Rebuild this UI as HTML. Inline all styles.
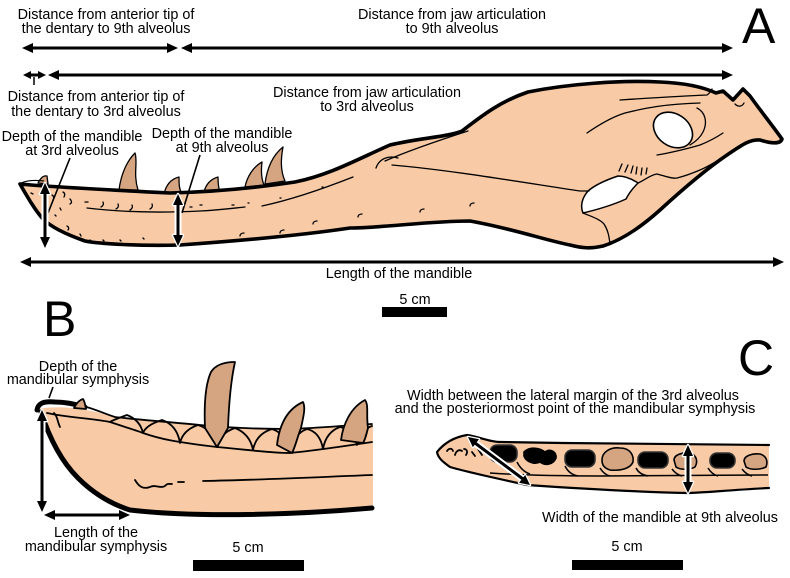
<!DOCTYPE html>
<html><head><meta charset="utf-8"><style>
html,body{margin:0;padding:0;background:#fff;}
svg{display:block;}
text{font-family:"Liberation Sans",Arial,sans-serif;font-size:14.4px;fill:#000;}
.big{font-size:50px;}
</style></head><body>
<svg width="790" height="578" viewBox="0 0 790 578" xmlns="http://www.w3.org/2000/svg">
<rect width="790" height="578" fill="#fff"/>

<!-- ===== PANEL A ===== -->
<g fill="#d5a582" stroke="#000" stroke-width="1.3" stroke-linejoin="round">
<path d="M38,183 C40,179 43,175 47,176 L48,184 Z"/>
<path d="M119,190 C121,174 127,161 135,153 C138,162 133,174 138,190 Z"/>
<path d="M164,194 C166,185 171,179 179,177 C179,184 179,189 182,194 Z"/>
<path d="M204,192 C206,184 211,179 218,177 C218,182 218,187 220,192 Z"/>
<path d="M245,187 C247,177 253,167 262,162 C261,170 261,178 264,185 Z"/>
<path d="M265,184 C267,168 273,155 283,147 C281,158 280,170 285,181 Z"/>
</g>
<path d="M20,184 C50,187 110,190 170,193 C215,192 255,188 295,182 C330,175 360,158 390,145 C420,138 447,137 462,131 C478,119 498,102 528,92 C568,84 620,80 660,82 C685,83 703,87 716,93 L723,91 L733,100 L743,89 L750,96 C760,110 772,125 782,139 C780,145 770,143 760,140 C750,139 742,145 727,155 C705,170 684,188 660,210 C640,228 622,240 603,246 C590,249 582,248 570,245 C545,240 510,228 470,221 C430,221 380,228 350,228 C310,234 250,240 180,245 C140,246 100,244 85,241 C65,234 50,226 43,219 C35,210 28,198 20,184 Z" fill="#f8cba6" stroke="#000" stroke-width="3.6" stroke-linejoin="round"/>
<path d="M21,183 C28,180 36,180 44,181" fill="none" stroke="#000" stroke-width="1.2"/>
<ellipse cx="673" cy="130" rx="21" ry="16" transform="rotate(35 673 130)" fill="#fff" stroke="#000" stroke-width="1.6"/>
<path d="M583,213 C580,206 582,198 588,191 C595,185 606,180 618,176 C626,176 632,179 638,183 C633,188 629,193 626,199 C615,204 600,209 583,213 Z" fill="#fff" stroke="#000" stroke-width="1.5"/>
<g fill="none" stroke="#000" stroke-width="1.3" stroke-linecap="round">
<path d="M87,208 C120,212 160,213 200,211 C220,210 235,208 245,207"/>
<path d="M262,206 C290,200 320,190 353,177"/>
<path d="M376,168 C379,159 388,155 398,158"/>
<path d="M385,161 C410,150 440,140 468,131"/>
<path d="M392,165 C450,170 520,182 580,191 C584,191 587,191 589,191"/>
<path d="M583,213 C590,216 600,219 604,224 C608,230 609,236 610,244"/>
<path d="M638,183 C645,180 650,175 657,174 C665,176 672,179 677,178 C685,176 693,173 700,170 C710,166 718,160 727,155"/>
<path d="M657,155 C670,153 690,148 700,145 C710,141 717,137 723,133"/>
<path d="M587,133 C600,124 612,117 625,113 C645,108 665,104 700,103"/>
<path d="M620,100 C650,98 680,96 707,95 C710,93 711,91 712,89"/>
<path d="M697,108 C705,112 708,122 703,132 C700,138 695,142 690,145"/>
<path d="M735,104 C738,107 742,107 744,103"/>
<path d="M619,171 L622,164 M625,172 L628,165 M631,173 L633,166 M636,174 L637,167 M641,175 L642,168 M646,174 L647,168"/>
<path d="M31,193 l2,1 M52,195 c2,1 2,3 1,5 M63,192 c2,1 2,3 1,5 M70,199 c2,2 2,4 0,5 M60,208 l1,2 M55,215 l1,1 M67,226 c2,1 2,3 1,4 M80,234 l1,2 M90,240 l1,1 M103,240 l1,1 M120,240 l1,1 M143,238 l1,1"/>
<path d="M85,202 l3,0 M103,202 c1,2 0,4 -2,5 M118,204 c1,2 0,4 -2,5 M132,205 c1,2 0,4 -2,5 M152,204 c1,2 0,4 -2,5 M190,207 l2,0 M200,205 l2,0 M232,205 l2,0 M248,203 l1,0 M280,198 l1,0 M322,187 l1,0"/>
<path d="M240,236 c0,-2 2,-3 4,-3 M280,233 c0,-2 2,-3 4,-3 M313,224 c0,-2 2,-3 4,-3 M358,217 c0,-2 2,-3 4,-3 M420,212 c0,-2 2,-3 4,-3 M470,206 c0,-2 2,-3 4,-3"/>
</g>

<g stroke="#000" stroke-width="3" fill="#000">
<line x1="30" y1="48" x2="170" y2="48"/>
<polygon points="22,48 33,43 33,53" stroke="none"/>
<polygon points="178,48 167,43 167,53" stroke="none"/>
<line x1="189" y1="48" x2="725" y2="48"/>
<polygon points="181,48 192,43 192,53" stroke="none"/>
<polygon points="733,48 722,43 722,53" stroke="none"/>
<line x1="28" y1="75" x2="41" y2="75"/>
<polygon points="23,75 31,71 31,79" stroke="none"/>
<polygon points="46,75 38,71 38,79" stroke="none"/>
<line x1="55" y1="75" x2="725" y2="75"/>
<polygon points="48,75 59,70 59,80" stroke="none"/>
<polygon points="733,75 722,70 722,80" stroke="none"/>
<line x1="27" y1="262" x2="777" y2="262"/>
<polygon points="20,262 31,257 31,267" stroke="none"/>
<polygon points="784,262 773,257 773,267" stroke="none"/>
</g>
<line x1="34" y1="77" x2="34" y2="85" stroke="#000" stroke-width="1.5"/>
<g stroke="#000" stroke-width="1.6">
<line x1="70" y1="158" x2="48" y2="213"/>
<line x1="200" y1="155" x2="182" y2="213"/>
<line x1="53" y1="387" x2="49" y2="398"/>
</g>
<g stroke="#fff" stroke-width="2.5" stroke-linejoin="round" fill="#fff">
<line x1="45" y1="190" x2="45" y2="241" stroke-width="7"/>
<polygon points="45,183 40,194 50,194"/><polygon points="45,248 40,237 50,237"/>
<line x1="178" y1="201" x2="178" y2="239" stroke-width="7"/>
<polygon points="178,194 173,205 183,205"/><polygon points="178,246 173,235 183,235"/>
</g>
<g stroke="#000" stroke-width="3" fill="#000">
<line x1="45" y1="190" x2="45" y2="241"/>
<polygon points="45,183 40,194 50,194" stroke="none"/><polygon points="45,248 40,237 50,237" stroke="none"/>
<line x1="178" y1="201" x2="178" y2="239"/>
<polygon points="178,194 173,205 183,205" stroke="none"/><polygon points="178,246 173,235 183,235" stroke="none"/>
</g>

<g text-anchor="middle">
<text x="106" y="19">Distance from anterior tip of</text>
<text x="106" y="33">the dentary to 9th alveolus</text>
<text x="452" y="19">Distance from jaw articulation</text>
<text x="452" y="33">to 9th alveolus</text>
<text x="96" y="101">Distance from anterior tip of</text>
<text x="96" y="116">the dentary to 3rd alveolus</text>
<text x="367" y="97">Distance from jaw articulation</text>
<text x="367" y="111">to 3rd alveolus</text>
<text x="72" y="141">Depth of the mandible</text>
<text x="72" y="155">at 3rd alveolus</text>
<text x="222" y="138">Depth of the mandible</text>
<text x="222" y="152">at 9th alveolus</text>
<text x="399" y="278">Length of the mandible</text>
<text x="415" y="304">5 cm</text>
</g>
<rect x="382" y="307" width="65" height="10" fill="#000"/>
<text class="big" x="742" y="43">A</text>

<!-- ===== PANEL B ===== -->
<text class="big" x="43" y="336">B</text>
<g text-anchor="middle">
<text x="78" y="371">Depth of the</text>
<text x="78" y="384">mandibular symphysis</text>
<text x="96" y="537">Length of the</text>
<text x="96" y="551">mandibular symphysis</text>
<text x="248" y="552">5 cm</text>
</g>
<rect x="193" y="560" width="111" height="11" fill="#000"/>

<path d="M38,409 C60,405 85,408 115,417 C140,420 170,422 200,425 C230,428 260,429 290,429 C320,428 350,425 373,424 L373,510 C330,513 280,516 200,516 C160,515 140,512 128,509 C105,500 90,490 78,478 C65,462 52,440 42,415 Z" fill="#f8cba6"/>
<g fill="none" stroke="#000" stroke-width="1.8" stroke-linejoin="round" stroke-linecap="round">
<path d="M83,406 C95,409 105,414 115,417 C140,420 170,422 200,425 C230,428 260,429 290,429 C320,428 350,425 372,424"/>
<path d="M47,413 C70,418 90,418 110,422 C125,427 138,431 143,433 C160,439 175,442 217,447 C250,450 270,453 290,453 C320,450 345,446 372,442"/>
<path d="M110,422 Q113,420 127,415 Q140,420 143,433 Q146,425 162,420 Q177,425 180,443 Q183,430 198,425 Q214,430 217,447 Q220,433 235,428 Q250,434 253,450 Q256,434 272,429 Q287,434 290,453 Q293,434 307,429 Q320,432 323,449 Q326,432 340,427 Q354,430 357,445 Q360,430 372,426"/>
<path d="M203,481 C260,480 320,477 372,475"/>
<path d="M178,482 L184,482"/>
<path d="M135,480 C138,485 142,490 150,487 C155,484 160,489 165,486 C167,483 170,484 172,484"/>
<path d="M54,413 C58,417 57,421 60,427"/>
</g>
<path d="M41,412 C50,440 62,462 78,478 C92,492 108,503 130,510 C190,517 280,516 372,508" fill="none" stroke="#000" stroke-width="5" stroke-linecap="round"/>
<path d="M37,410 C38,403 44,401 55,402 C65,402 75,404 85,407" fill="none" stroke="#000" stroke-width="5" stroke-linecap="round"/>
<g fill="#d5a582" stroke="#000" stroke-width="1.8" stroke-linejoin="round">
<path d="M74,408 C76,404 79,400 83,399 C85,402 85,405 86,409 Z"/>
<path d="M217,447 L205,428 C204,405 205,385 211,372 C216,364 226,362 235,362 C231,380 229,400 228,428 Z"/>
<path d="M277,445 C279,428 285,410 303,402 C306,408 303,418 301,428 C297,438 296,445 292,453 Z"/>
<path d="M341,440 C343,425 350,408 365,400 C369,405 366,415 368,428 C366,436 365,440 363,443 Z"/>
</g>
<g stroke="#fff" stroke-width="2.5" stroke-linejoin="round" fill="#fff">
<line x1="42" y1="417" x2="42" y2="505" stroke-width="7"/>
<polygon points="42,410 37,421 47,421"/><polygon points="42,512 37,501 47,501"/>
<line x1="51" y1="515" x2="123" y2="515" stroke-width="7"/>
<polygon points="44,515 55,510 55,520"/><polygon points="130,515 119,510 119,520"/>
</g>
<g stroke="#000" stroke-width="3" fill="#000">
<line x1="42" y1="417" x2="42" y2="505"/>
<polygon points="42,410 37,421 47,421" stroke="none"/><polygon points="42,512 37,501 47,501" stroke="none"/>
<line x1="51" y1="515" x2="123" y2="515"/>
<polygon points="44,515 55,510 55,520" stroke="none"/><polygon points="130,515 119,510 119,520" stroke="none"/>
</g>

<!-- ===== PANEL C ===== -->
<text class="big" x="738" y="375">C</text>
<g text-anchor="middle">
<text x="573" y="400">Width between the lateral margin of the 3rd alveolus</text>
<text x="575" y="413">and the posteriormost point of the mandibular symphysis</text>
<text x="660" y="522">Width of the mandible at 9th alveolus</text>
<text x="627" y="551">5 cm</text>
</g>
<rect x="572" y="560" width="111" height="10" fill="#000"/>

<path d="M437,452 C445,442 455,437 467,435 C480,437 490,442 500,442 L563,443 L769,445 L769,488 C730,490 700,493 687,493 C640,492 600,490 527,485 C490,477 460,470 450,467 C443,462 438,458 437,452 Z" fill="#f8cba6"/>
<g fill="none" stroke="#000" stroke-width="2.2" stroke-linejoin="round" stroke-linecap="round">
<path d="M769,445 L563,443 L500,442 C490,442 480,437 467,435 C455,437 445,442 437,452 C438,458 443,462 450,467 C460,470 490,477 527,485 C600,490 640,492 687,493 C700,493 730,490 769,488"/>
</g>
<g fill="none" stroke="#000" stroke-width="1.5" stroke-linejoin="round">
<path d="M490,473 C520,475 560,476 600,476 L768,475"/>
<path d="M517,462 C520,468 524,472 530,474 M565,466 C568,472 572,475 578,476 M600,468 C603,473 606,475 610,476 M636,468 C638,472 642,475 648,476 M672,469 C675,473 678,475 682,476 M708,468 C711,473 714,475 718,476 M742,469 C745,473 748,475 752,476"/>
</g>
<g stroke="#333" stroke-width="1.6">
<rect x="490" y="445" width="27" height="17" rx="7" fill="#000"/>
<rect x="565" y="450" width="30" height="17" rx="7" fill="#000"/>
<rect x="638" y="452" width="30" height="16" rx="7" fill="#000"/>
<rect x="710" y="453" width="25" height="15" rx="7" fill="#000"/>
</g>
<g stroke="#000" stroke-width="1.6" fill="#d5a582">
<path d="M602,460 C602,452 610,447 620,448 C630,448 634,455 633,462 C630,469 620,471 610,470 C604,468 602,465 602,460 Z"/>
<path d="M674,460 C674,455 682,452 690,453 C697,455 698,462 695,467 C690,470 680,470 676,467 Z"/>
<path d="M744,461 C744,456 752,453 760,454 C767,456 768,462 766,467 C760,470 750,470 746,467 Z"/>
<path d="M524,452 C530,446 540,448 545,452 C550,448 557,452 556,458 C553,465 545,466 540,462 C535,465 526,462 524,456 Z" fill="#000"/>
</g>
<g fill="none" stroke="#000" stroke-width="1.8" stroke-linecap="round">
<path d="M447,451 c2,-3 5,-3 6,0 M455,455 c1,-4 4,-6 7,-4 M464,449 c3,0 4,3 2,6 M472,452 l3,4 M478,449 l4,6 M484,453 l3,2"/>
</g>
<g stroke="#fff" stroke-width="2.5" stroke-linejoin="round" fill="#fff">
<line x1="475" y1="443" x2="523" y2="479" stroke-width="7"/>
<polygon points="468,437 472.8,447.1 479.0,439.2"/><polygon points="530,485 519.0,482.8 525.2,475.0"/>
<line x1="688" y1="452" x2="688" y2="486" stroke-width="7"/>
<polygon points="688,445 683,456 693,456"/><polygon points="688,493 683,482 693,482"/>
</g>
<g stroke="#000" stroke-width="3" fill="#000">
<line x1="475" y1="443" x2="523" y2="479"/>
<polygon points="468,437 472.8,447.1 479.0,439.2" stroke="none"/><polygon points="530,485 519.0,482.8 525.2,475.0" stroke="none"/>
<line x1="688" y1="452" x2="688" y2="486"/>
<polygon points="688,445 683,456 693,456" stroke="none"/><polygon points="688,493 683,482 693,482" stroke="none"/>
</g>
</svg>
</body></html>
